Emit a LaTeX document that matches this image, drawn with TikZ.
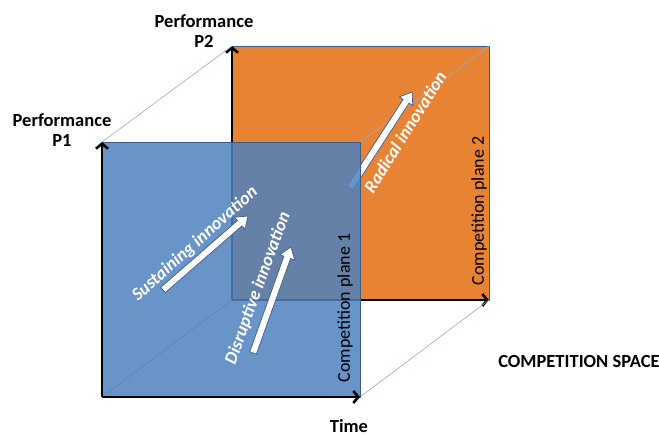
\documentclass[tikz,border=0pt]{standalone}
\usepackage{fontspec}
\setmainfont{Carlito}
\usetikzlibrary{arrows.meta}
\definecolor{planeblue}{RGB}{79,129,189}
\definecolor{planeorange}{RGB}{233,131,52}
\definecolor{edgeblue}{RGB}{56,93,138}
\definecolor{guide}{RGB}{150,170,200}

\tikzset{
  arrowbody/.style={draw=edgeblue, fill=white, line width=0.7pt, line join=miter},
  % white block arrow of a given length, pointing along +x, centred on the origin
  pics/blockarrow/.style={code={
    \path[arrowbody] ({-#1/2},-3.5) -- ({#1/2-11},-3.5) -- ({#1/2-11},-8)
      -- ({#1/2},0) -- ({#1/2-11},8) -- ({#1/2-11},3.5) -- ({-#1/2},3.5) -- cycle;
  }}
}

\begin{document}
\begin{tikzpicture}[x=1pt,y=-1pt,
  plane/.style={draw=edgeblue, line width=0.8pt},
  axis/.style={line width=2.6pt, -{Straight Barb[length=5pt,width=12pt]}},
  guideline/.style={draw=guide, line width=0.6pt},
  axislabel/.style={font=\fontsize{18.5}{20}\selectfont\bfseries, align=center, inner sep=0pt},
  planelabel/.style={font=\fontsize{18}{20}\selectfont, rotate=90, inner sep=0pt},
  innolabel/.style={font=\fontsize{18}{20}\selectfont\bfseries\itshape, text=white, inner sep=0pt}
]
\useasboundingbox (0,0) rectangle (659,435);

% corners of the two competition planes
\coordinate (o1) at (102,397);
\coordinate (t1) at (102,142);
\coordinate (r1) at (360,397);
\coordinate (c1) at (360,142);
\coordinate (o2) at (232,300);
\coordinate (t2) at (232,46);
\coordinate (r2) at (489,300);
\coordinate (c2) at (489,46);

% rear plane
\path[plane, fill=planeorange] (o2) rectangle (c2);
\draw[axis] (o2) -- (t2);
\draw[axis] (o2) -- (r2);

% edges of the competition space
\draw[guideline] (t1) -- (t2);
\draw[guideline] (c1) -- (c2);
\draw[guideline] (r1) -- (r2);
\draw[guideline] (o1) -- (o2);

% radical innovation crosses between the planes
\pic[rotate=57.1] (radarrow) at (381,140) {blockarrow=114.3};

% front plane
\path[plane, fill=planeblue, fill opacity=0.85] (o1) rectangle (c1);
\draw[axis] (o1) -- (t1);
\draw[axis] (o1) -- (r1);

\pic[rotate=41] (susarrow) at (205.5,253) {blockarrow=112.7};
\pic[rotate=70.3] (disarrow) at (272,300) {blockarrow=112.6};

% labels
\node[axislabel] (p1) at (62,130) {Performance\\P1};
\node[axislabel] (p2) at (204,31) {Performance\\P2};
\node[axislabel] (time) at (349,426) {Time};
\node[axislabel] (space) at (579,361) {COMPETITION SPACE};
\node[planelabel] (plane1) at (345,308) {Competition plane 1};
\node[planelabel] (plane2) at (479,211) {Competition plane 2};
\node[innolabel, rotate=42] (sus) at (195,244) {Sustaining innovation};
\node[innolabel, rotate=70] (dis) at (258,288) {Disruptive innovation};
\node[innolabel, rotate=58] (rad) at (405,132) {Radical innovation};
\end{tikzpicture}
\end{document}
